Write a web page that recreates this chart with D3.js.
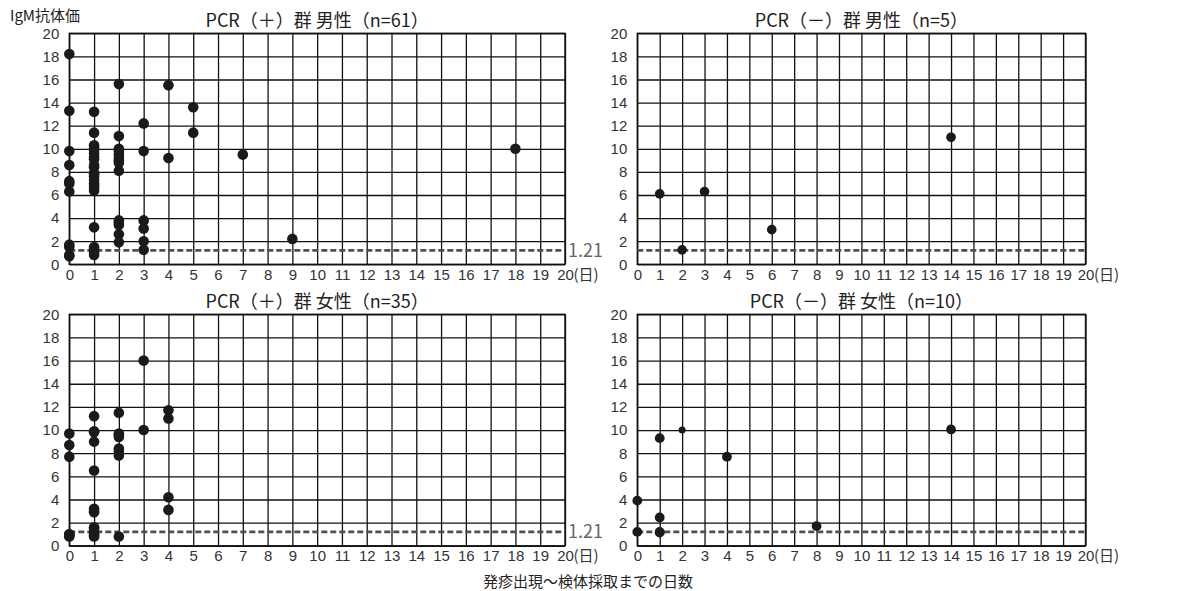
<!DOCTYPE html>
<html lang="ja">
<head>
<meta charset="utf-8">
<script src="https://cdn.jsdelivr.net/npm/d3@7"></script>
<style>
  html, body { margin: 0; padding: 0; background: #fff; }
  svg { display: block; font-family: "Noto Sans CJK JP", "Noto Sans", sans-serif; }
  .tick text { fill: #333; font-size: 15px; }
</style>
</head>
<body>
<svg id="chart" width="1177" height="591"></svg>
<script>
// IgM antibody titre by days from rash onset to specimen collection

const dayTicks = d3.range(0, 21, 1);
const titreTicks = d3.range(0, 21, 2);
const cutoff = 1.21;

// PCR(+) male: [days, IgM]
const pcrPosMale = [
  [0, 18.2], [0, 13.3], [0, 9.8], [0, 8.6], [0, 7.2], [0, 7.0], [0, 6.3], [0, 1.7], [0, 1.5], [0, 0.8], [0, 0.7],
  [1, 13.2], [1, 11.4], [1, 10.3], [1, 10.1], [1, 9.9], [1, 9.6], [1, 9.3], [1, 9.1], [1, 8.6], [1, 8.4], [1, 7.9],
  [1, 7.8], [1, 7.6], [1, 7.3], [1, 7.0], [1, 6.8], [1, 6.6], [1, 6.4], [1, 3.2], [1, 1.5], [1, 1.3], [1, 1.0], [1, 0.8],
  [2, 15.6], [2, 11.1], [2, 10.0], [2, 9.8], [2, 9.5], [2, 9.2], [2, 9.0], [2, 8.8], [2, 8.1],
  [2, 3.8], [2, 3.6], [2, 3.4], [2, 2.6], [2, 1.9],
  [3, 12.2], [3, 9.8], [3, 3.8], [3, 3.1], [3, 2.0], [3, 1.25],
  [4, 15.5], [4, 9.2],
  [5, 13.6], [5, 11.4],
  [7, 9.5],
  [9, 2.2],
  [18, 10.0]
];

// PCR(-) male
const pcrNegMale = [
  [1, 6.1], [2, 1.25], [3, 6.3], [6, 3.0], [14, 11.0]
];

// PCR(+) female
const pcrPosFemale = [
  [0, 9.7], [0, 8.7], [0, 7.7], [0, 1.0], [0, 0.9], [0, 0.8], [0, 1.0],
  [1, 11.2], [1, 9.9], [1, 9.8], [1, 9.0], [1, 6.5], [1, 3.2], [1, 3.0], [1, 2.9], [1, 1.6], [1, 1.5],
  [1, 1.2], [1, 1.0], [1, 0.9], [1, 0.8],
  [2, 11.5], [2, 9.7], [2, 9.6], [2, 9.4], [2, 8.4], [2, 8.2], [2, 7.8], [2, 0.8],
  [3, 16.0], [3, 10.0],
  [4, 11.7], [4, 11.0], [4, 4.2], [4, 3.1]
];

// PCR(-) female
const pcrNegFemale = [
  [0, 3.9], [0, 1.2], [1, 9.3], [1, 2.45], [1, 1.15], [1, 1.2], [2, 10.0], [4, 7.7], [8, 1.7], [14, 10.05]
];

const panelTitles = [
  "PCR（＋）群 男性（n=61）",
  "PCR（－）群 男性（n=5）",
  "PCR（＋）群 女性（n=35）",
  "PCR（－）群 女性（n=10）"
];

const svg = d3.select("#chart");

// panel frames in pixels
const panels = [
  { data: pcrPosMale,   title: panelTitles[0], x0: 69.3,  x1: 565,    y0: 33.3,  y1: 264.3, r: 5.3, cutLabel: true },
  { data: pcrNegMale,   title: panelTitles[1], x0: 637.3, x1: 1085.5, y0: 33.3,  y1: 264.3, r: 4.8, cutLabel: false },
  { data: pcrPosFemale, title: panelTitles[2], x0: 69.3,  x1: 565,    y0: 314.3, y1: 545.8, r: 5.3, cutLabel: true },
  { data: pcrNegFemale, title: panelTitles[3], x0: 637.3, x1: 1085.5, y0: 314.3, y1: 545.8, r: 4.9, cutLabel: false }
];

panels.forEach((p, pi) => {
  const w = p.x1 - p.x0, h = p.y1 - p.y0;
  const x = d3.scaleLinear().domain([0, 20]).range([0, w]);
  const y = d3.scaleLinear().domain([0, 20]).range([h, 0]);
  const g = svg.append("g").attr("transform", `translate(${p.x0},${p.y0})`);

  // vertical grid + day labels
  const xa = g.append("g")
    .attr("transform", `translate(0,${h})`)
    .call(d3.axisBottom(x).tickValues(dayTicks).tickSize(-h).tickPadding(4).tickFormat(d3.format("d")));
  xa.select(".domain").remove();
  xa.selectAll(".tick line").attr("stroke", "#111").attr("stroke-width", 1.3);
  xa.selectAll(".tick text").attr("dy", "0.76em");

  // unit after the last day label
  g.append("text")
    .attr("x", x(20) + 8.5).attr("y", h + 4).attr("dy", "0.76em")
    .attr("fill", "#333").attr("font-size", 15)
    .text("(日)");

  // horizontal grid + titre labels
  const ya = g.append("g")
    .call(d3.axisLeft(y).tickValues(titreTicks).tickSize(-w).tickPadding(10).tickFormat(d3.format("d")));
  ya.select(".domain").remove();
  ya.selectAll(".tick line").attr("stroke", "#111").attr("stroke-width", 1.3);

  // frame
  g.append("rect").attr("width", w).attr("height", h)
    .attr("fill", "none").attr("stroke", "#111").attr("stroke-width", 1.4);

  // cutoff line
  g.append("line")
    .attr("x1", 0).attr("x2", w).attr("y1", y(cutoff)).attr("y2", y(cutoff))
    .attr("stroke", "#505050").attr("stroke-width", 2.8).attr("stroke-dasharray", "6,3");

  if (p.cutLabel) {
    g.append("text")
      .attr("x", w + 3).attr("y", y(cutoff)).attr("dy", "0.36em")
      .attr("fill", "#666").attr("font-size", 18)
      .text(d3.format(".2f")(cutoff));
  }

  // points (one lighter reading drawn smaller in the PCR(-) female panel)
  g.append("g").selectAll("circle").data(p.data).join("circle")
    .attr("cx", d => x(d[0])).attr("cy", d => y(d[1]))
    .attr("r", d => (pi === 3 && d[0] === 2) ? 3.5 : p.r)
    .attr("fill", "#1a1a1a");

  // title
  g.append("text")
    .attr("x", w / 2).attr("y", -13).attr("dy", "0.36em")
    .attr("text-anchor", "middle").attr("fill", "#222").attr("font-size", 18)
    .text(p.title);
});

// y-axis caption
svg.append("text")
  .attr("x", 10).attr("y", 16).attr("dy", "0.36em")
  .attr("fill", "#222").attr("font-size", 15)
  .text("IgM抗体価");

// x-axis caption
svg.append("text")
  .attr("x", 588).attr("y", 582).attr("dy", "0.36em")
  .attr("text-anchor", "middle").attr("fill", "#222").attr("font-size", 15)
  .text("発疹出現〜検体採取までの日数");
</script>
</body>
</html>
